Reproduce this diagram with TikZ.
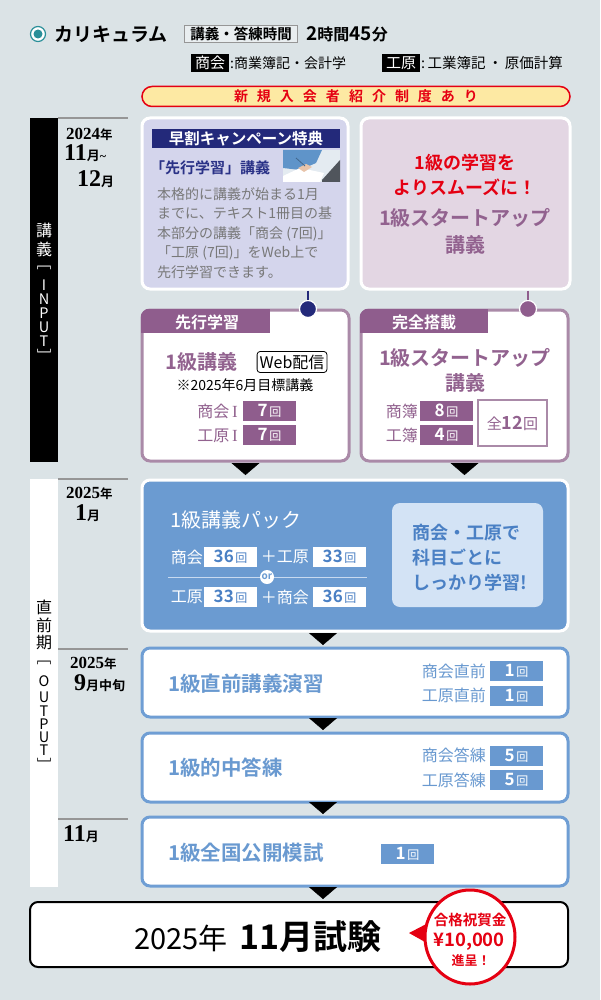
\documentclass[tikz,border=0pt]{standalone}
\usepackage{fontspec}
\usetikzlibrary{arrows.meta,calc,shapes.geometric}
\newfontfamily\jp{Noto Sans CJK JP}[BoldFont={Noto Sans CJK JP Bold}]
\newfontfamily\dser{Liberation Serif}
\definecolor{bgc}{RGB}{219,227,230}
\definecolor{tealc}{RGB}{42,143,153}
\definecolor{redc}{RGB}{229,0,18}
\definecolor{yellowc}{RGB}{253,233,163}
\definecolor{navyc}{RGB}{35,41,122}
\definecolor{navyt}{RGB}{42,50,135}
\definecolor{lavA}{RGB}{212,213,236}
\definecolor{lavB}{RGB}{227,214,227}
\definecolor{ptab}{RGB}{143,93,141}
\definecolor{pbord}{RGB}{170,138,168}
\definecolor{ptext}{RGB}{146,98,143}
\definecolor{greyt}{RGB}{120,120,120}
\definecolor{blueE}{RGB}{107,155,209}
\definecolor{lblue}{RGB}{211,227,245}
\definecolor{bluet}{RGB}{74,128,196}
\definecolor{blueb}{RGB}{111,158,212}
\definecolor{bluet2}{RGB}{105,153,208}
\definecolor{greyl}{RGB}{150,150,150}
\definecolor{orline}{RGB}{200,218,240}
\definecolor{photobg}{RGB}{228,235,241}
\definecolor{shirt}{RGB}{95,148,201}
\definecolor{laptop}{RGB}{80,85,92}
\definecolor{skin}{RGB}{232,196,170}
\newcommand{\cntk}[1]{{\bfseries\fontsize{17}{17}\selectfont #1}\hspace{1.5pt}{\fontsize{12}{12}\selectfont 回}}
\begin{document}
\begin{tikzpicture}[x=1pt,y=-1pt,
 jpt/.style={font=\jp\fontsize{#1}{#1}\selectfont, inner sep=0pt},
 jpb/.style={font=\jp\bfseries\fontsize{#1}{#1}\selectfont, inner sep=0pt},
 vch/.style={font=\jp\fontsize{16}{16}\selectfont, inner sep=0pt},
 vlt/.style={font=\jp\fontsize{14.5}{14.5}\selectfont, inner sep=0pt},
 datel/.style={anchor=base west, inner sep=0pt, font=\bfseries},
 pbox/.style={draw=pbord, line width=3, fill=white, rounded corners=8, minimum width=207, minimum height=151, inner sep=0},
 bbox/.style={draw=blueb, line width=3, fill=white, rounded corners=8, minimum width=426, minimum height=69, inner sep=0},
 pcnt/.style={fill=ptab, text=white, minimum width=53, minimum height=20, inner sep=0, font=\jp},
 bcnt/.style={fill=bluet2, text=white, minimum width=53, minimum height=20, inner sep=0, font=\jp},
 wcnt/.style={fill=white, text=bluet, minimum width=53, minimum height=20, inner sep=0, font=\jp},
 tri/.style={-{Triangle[width=28pt,length=12pt]}, line width=0.3pt, black, shorten <=0.5pt, shorten >=1.5pt},
 ]
\useasboundingbox (0,0) rectangle (600,1000);
\fill[bgc] (0,0) rectangle (600,1000);

% ---------- header ----------
\node[circle, draw=tealc, line width=1.2, fill=white, minimum size=15, inner sep=0] (bul) at (38,34) {};
\node[circle, fill=tealc, minimum size=9, inner sep=0] (bulin) at (bul) {};
\node[jpb=19, anchor=west] (cur) at (54,34) {カリキュラム};
\node[draw=greyl, line width=0.8, fill=white!40!bgc, jpb=14.5, inner xsep=6pt, minimum height=17] (kt) at (241,34) {講義・答練時間};
\node[jpb=16, anchor=west] (tm) at (306,34) {{\fontsize{19}{19}\selectfont 2}時間{\fontsize{19}{19}\selectfont 45}分};
\node[fill=black, text=white, jpt=15, minimum width=38, minimum height=18] (shk) at (210,63) {商会};
\node[jpt=14, anchor=west] (shkt) at (230,63) {:商業簿記・会計学};
\node[fill=black, text=white, jpt=15, minimum width=38, minimum height=18] (kgn) at (401,63) {工原};
\node[jpt=14.5, anchor=west] (kgnt) at (421,63) {:\,工業簿記\,・\,原価計算};
\node[draw=redc, line width=1.5, fill=yellowc, rounded corners=10, minimum width=428, minimum height=20, inner sep=0] (ban) at (356,96.5) {};
\node[jpb=14, text=redc] (bant) at (ban) {新\hspace{9pt}規\hspace{9pt}入\hspace{9pt}会\hspace{9pt}者\hspace{9pt}紹\hspace{9pt}介\hspace{9pt}制\hspace{9pt}度\hspace{9pt}あ\hspace{9pt}り};

% ---------- left column ----------
\node[fill=black, minimum width=28, minimum height=344, inner sep=0] (barA) at (44,290) {};
\node[fill=white, minimum width=28, minimum height=408, inner sep=0] (barB) at (44,683) {};
\draw[greyl, line width=1.5] (58,118) -- (128,118);
\draw[greyl, line width=1.5] (58,479) -- (128,479);
\draw[greyl, line width=1.5] (58,649) -- (128,649);
\draw[greyl, line width=1.5] (58,819) -- (128,819);
\foreach \c/\yy [count=\i] in {講/230,義/249} \node[vch, text=white] (va\i) at (44,\yy) {\c};
\foreach \c/\yy [count=\i] in {﹇/268,I/285,N/299,P/313,U/327,T/341,﹈/355} \node[vlt, text=white] (vb\i) at (44,\yy) {\c};
\foreach \c/\yy [count=\i] in {直/607,前/625,期/643} \node[vch, text=black] (vc\i) at (44,\yy) {\c};
\foreach \c/\yy [count=\i] in {﹇/663,O/681,U/697,T/711,P/724,U/737,T/750,﹈/764} \node[vlt, text=black] (vd\i) at (44,\yy) {\c};

\node[datel] (d1a) at (66,140) {\dser\fontsize{17}{17}\selectfont 2024\jp\fontsize{12.5}{12.5}\selectfont 年};
\node[datel] (d1b) at (64,161) {\dser\fontsize{24}{24}\selectfont 11\jp\fontsize{13}{13}\selectfont 月{\dser\fontsize{12}{12}\selectfont\textasciitilde}};
\node[datel] (d1c) at (77,187) {\dser\fontsize{24}{24}\selectfont 12\jp\fontsize{13}{13}\selectfont 月};
\node[datel] (d2a) at (66,498) {\dser\fontsize{17}{17}\selectfont 2025\jp\fontsize{12.5}{12.5}\selectfont 年};
\node[datel] (d2b) at (75,520) {\dser\fontsize{24}{24}\selectfont 1\jp\fontsize{13}{13}\selectfont 月};
\node[datel] (d3a) at (70,668) {\dser\fontsize{17}{17}\selectfont 2025\jp\fontsize{12.5}{12.5}\selectfont 年};
\node[datel] (d3b) at (74,690) {\dser\fontsize{24}{24}\selectfont 9\jp\fontsize{13}{13}\selectfont 月中旬};
\node[datel] (d4a) at (63,841) {\dser\fontsize{24}{24}\selectfont 11\jp\fontsize{13}{13}\selectfont 月};

% ---------- box A ----------
\node[draw=white, line width=3, fill=lavA, rounded corners=8, minimum width=206, minimum height=171, inner sep=0] (A) at (245,203.5) {};
\node[fill=navyc, minimum width=188, minimum height=19, text=white, jpb=15.5] (hdA) at (246,139) {早割キャンペーン特典};
\node[jpb=15, text=navyt, anchor=west] (sgA) at (150,168) {「先行学習」講義};
\begin{scope}
\clip (283,150) rectangle (340,182);
\fill[photobg] (283,150) rectangle (340,182);
\fill[shirt] (283,150) -- (322,150) -- (316,163) -- (300,170) -- (283,168) -- cycle;
\fill[white] (283,176) -- (300,168) -- (324,173) -- (320,182) -- (283,182) -- cycle;
\fill[skin] (298,168) -- (306,164) -- (312,167) -- (304,172) -- cycle;
\fill[laptop] (322,180) -- (340,160) -- (340,182) -- (322,182) -- cycle;
\draw[shirt!70!black, line width=0.8] (305,166) -- (296,158);
\end{scope}
\node[font=\jp\fontsize{14}{19.5}\selectfont, text=greyt, align=left, anchor=north west, inner sep=0] (bodyA) at (157,187) {本格的に講義が始まる1月\\までに、テキスト1冊目の基\\本部分の講義「商会 (7回)」\\「工原 (7回)」をWeb上で\\先行学習できます。};

% ---------- box B ----------
\node[draw=white, line width=3, fill=lavB, rounded corners=8, minimum width=209, minimum height=171, inner sep=0] (B) at (465.5,203.5) {};
\node[font=\jp\bfseries\fontsize{18}{25}\selectfont, text=redc, align=center, inner sep=0] (Bt1) at (465,175) {1級の学習を\\よりスムーズに！};
\node[font=\jp\bfseries\fontsize{20}{27}\selectfont, text=ptext, align=center, inner sep=0] (Bt2) at (465,231) {1級スタートアップ\\講義};

% ---------- box C ----------
\node[pbox] (C) at (245.5,385.5) {};
\begin{scope}
\clip[rounded corners=9.5] (140.5,308.5) rectangle (350.5,462.5);
\fill[ptab] (140.5,308.5) rectangle (270,333);
\end{scope}
\node[jpb=16, text=white] (tC) at (207,322) {先行学習};
\node[jpb=20, text=ptext, anchor=west] (C1) at (165,362) {1級講義};
\node[draw=black, line width=0.8, rounded corners=3, jpt=16, inner xsep=2.5pt, minimum height=21] (web) at (292,362) {Web配信};
\node[jpt=14] (Cnote) at (245,385) {※2025年6月目標講義};
\node[jpt=16, text=ptext, anchor=east] (C2) at (238,411) {商会{\dser\fontsize{17}{17}\selectfont\,I}};
\node[pcnt] (c1) at (269.5,411) {\cntk{7}};
\node[jpt=16, text=ptext, anchor=east] (C3) at (238,435.5) {工原{\dser\fontsize{17}{17}\selectfont\,I}};
\node[pcnt] (c2) at (269.5,435) {\cntk{7}};

% ---------- box D ----------
\node[pbox] (D) at (464.5,385.5) {};
\begin{scope}
\clip[rounded corners=9.5] (359.5,308.5) rectangle (569.5,462.5);
\fill[ptab] (359.5,308.5) rectangle (488,333);
\end{scope}
\node[jpb=16, text=white] (tD) at (424,322) {完全搭載};
\node[font=\jp\bfseries\fontsize{20}{25}\selectfont, text=ptext, align=center, inner sep=0] (D1) at (465,370) {1級スタートアップ\\講義};
\node[jpt=16, text=ptext, anchor=east] (D2) at (418,411) {商簿};
\node[pcnt] (c3) at (446.5,411) {\cntk{8}};
\node[jpt=16, text=ptext, anchor=east] (D3) at (418,435.5) {工簿};
\node[pcnt] (c4) at (446.5,435) {\cntk{4}};
\node[draw=pbord, line width=1.2, fill=white, minimum width=69, minimum height=46, jpt=15, text=ptext] (all) at (512.5,423) {全{\bfseries\fontsize{18}{18}\selectfont 12}回};

% ---------- connectors top ----------
\node[circle, fill=navyc, draw=white, line width=1.2, minimum size=17, inner sep=0] (dA) at (308,309) {};
\node[circle, fill=ptab, draw=white, line width=1.2, minimum size=17, inner sep=0] (dB) at (528,309) {};
\draw[navyc, line width=2] (A.south -| dA) -- (dA);
\draw[ptab, line width=2] (B.south -| dB) -- (dB);

% ---------- box E ----------
\node[draw=white, line width=3, fill=blueE, rounded corners=8, minimum width=426, minimum height=151, inner sep=0] (E) at (355,555.5) {};
\node[jpt=20, text=white, anchor=west] (E1) at (170,520) {1級講義パック};
\node[jpt=16, text=white, anchor=east] (E2) at (203,557) {商会};
\node[wcnt] (e1) at (230.5,557) {\cntk{36}};
\node[jpt=16, text=white, anchor=east] (E3) at (309,557) {＋工原};
\node[wcnt] (e2) at (339.5,557) {\cntk{33}};
\draw[orline, line width=1] (168,577) -- (367,577);
\node[circle, fill=white, minimum size=14, inner sep=0, font=\jp\bfseries\fontsize{10}{10}\selectfont, text=blueE] (or) at (267,577) {or};
\node[jpt=16, text=white, anchor=east] (E4) at (203,597) {工原};
\node[wcnt] (e3) at (230.5,597) {\cntk{33}};
\node[jpt=16, text=white, anchor=east] (E5) at (309,597) {＋商会};
\node[wcnt] (e4) at (339.5,597) {\cntk{36}};
\node[fill=lblue, rounded corners=8, minimum width=151, minimum height=104, inner sep=0] (EI) at (467.5,555) {};
\node[font=\jp\bfseries\fontsize{18}{25}\selectfont, text=bluet, align=left, anchor=west, inner sep=0] (EIt) at (412,558) {商会・工原で\\科目ごとに\\しっかり学習!};

% ---------- boxes F G H ----------
\node[bbox] (F) at (355,682.5) {};
\node[jpb=20.5, text=bluet2, anchor=west] (F1) at (168,684) {1級直前講義演習};
\node[jpt=16, text=bluet2, anchor=east] (F2) at (486,671) {商会直前};
\node[bcnt] (f1) at (516.5,671) {\cntk{1}};
\node[jpt=16, text=bluet2, anchor=east] (F3) at (486,695.5) {工原直前};
\node[bcnt] (f2) at (516.5,695.5) {\cntk{1}};

\node[bbox] (G) at (355,767.5) {};
\node[jpb=20.5, text=bluet2, anchor=west] (G1) at (168,768) {1級的中答練};
\node[jpt=16, text=bluet2, anchor=east] (G2) at (486,755.5) {商会答練};
\node[bcnt] (g1) at (516.5,755.5) {\cntk{5}};
\node[jpt=16, text=bluet2, anchor=east] (G3) at (486,780) {工原答練};
\node[bcnt] (g2) at (516.5,780) {\cntk{5}};

\node[bbox] (H) at (355,851.5) {};
\node[jpb=20.5, text=bluet2, anchor=west] (H1) at (168,853) {1級全国公開模試};
\node[bcnt] (h1) at (407.5,853.5) {\cntk{1}};

% ---------- final box ----------
\node[draw=black, line width=2, fill=white, rounded corners=8, minimum width=538, minimum height=65, inner sep=0] (I) at (299,934.5) {};
\node[anchor=base west, inner sep=0] (It) at (134,949) {\jp\fontsize{29}{29}\selectfont 2025年\hspace{12pt}{\bfseries\fontsize{34}{34}\selectfont 11月試験}};
\fill[redc] (409,933) -- (434,920) -- (434,947) -- cycle;
\node[ellipse, draw=redc, line width=3, fill=white, minimum width=90, minimum height=94, inner sep=0] (badge) at (470,937) {};
\node[jpb=14.5, text=redc] (bt1) at (470,920) {合格祝賀金};
\node[jpb=18.5, text=redc] (bt2) at (469,942) {¥10,000};
\node[jpb=13, text=redc] (bt3) at (471,961) {進呈！};

% ---------- arrows ----------
\coordinate (ax) at (323,0);
\draw[tri, shorten >=3.5pt] (C.south) -- (C.south |- E.north);
\draw[tri, shorten >=3.5pt] (D.south) -- (D.south |- E.north);
\draw[tri] (E.south -| ax) -- (F.north -| ax);
\draw[tri] (F.south -| ax) -- (G.north -| ax);
\draw[tri] (G.south -| ax) -- (H.north -| ax);
\draw[tri, shorten >=2pt] (H.south -| ax) -- (I.north -| ax);
\end{tikzpicture}
\end{document}
